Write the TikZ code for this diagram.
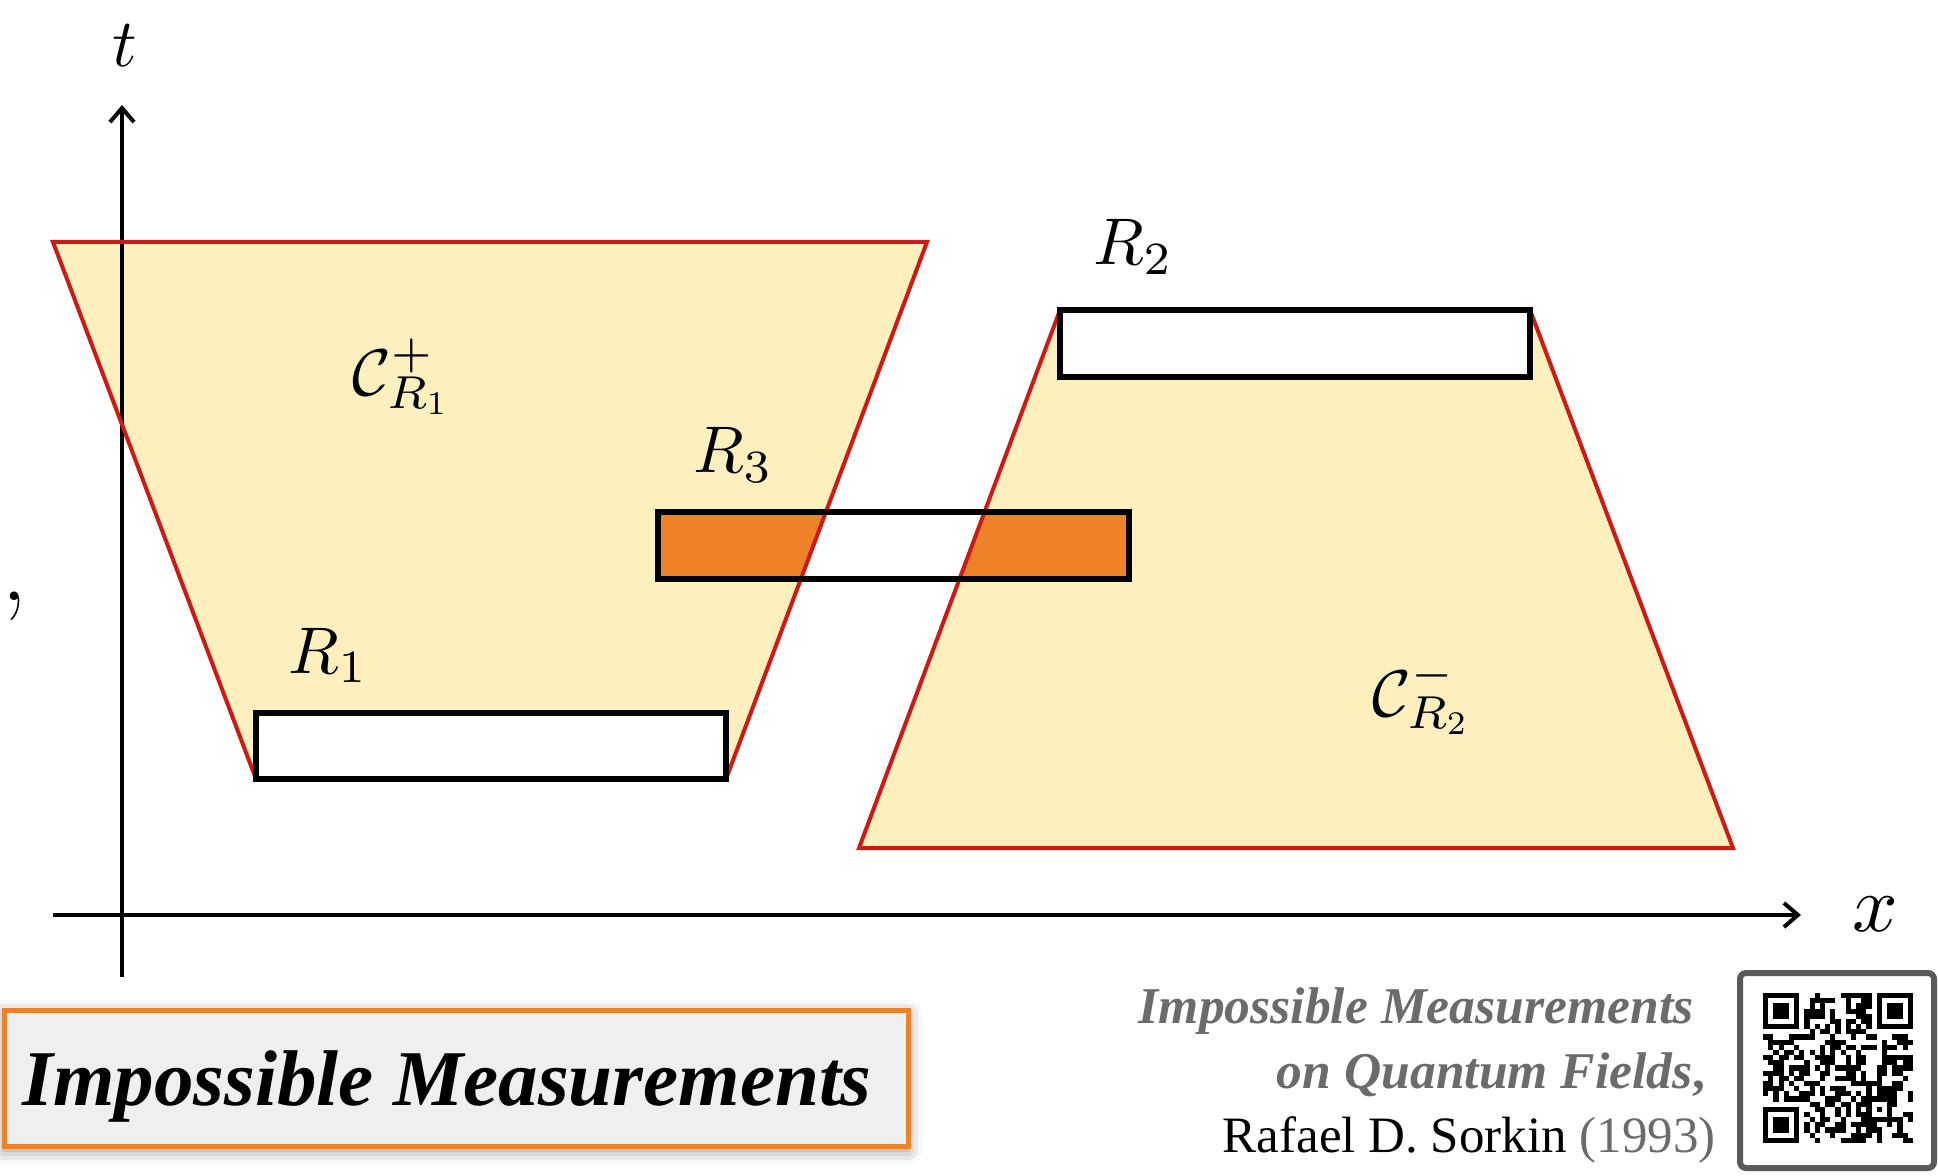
\documentclass[tikz,border=0pt]{standalone}
\usepackage{fontspec}
\newfontfamily\refserif{Liberation Serif}
\DeclareFontShape{OML}{cmm}{m}{it}{<-30>cmmi7 <30->cmmi10}{\skewchar\font=127}
\DeclareFontShape{OT1}{cmr}{m}{n}{<-30>cmr7 <30->cmr10}{}
\DeclareFontShape{OMS}{cmsy}{m}{n}{<-30>cmsy7 <30->cmsy10}{\skewchar\font=48}
\usetikzlibrary{arrows.meta,shadows.blur}
\definecolor{conefill}{HTML}{FDF0BE}
\definecolor{conered}{HTML}{CC1A14}
\definecolor{rorange}{HTML}{EE8229}
\definecolor{refgray}{HTML}{6B6B6B}
\definecolor{qrframe}{HTML}{5A5A5A}
\definecolor{titlebg}{HTML}{EFEFEF}
\tikzset{
  cone/.style={fill=conefill},
  coneedge/.style={draw=conered, line width=2pt, line join=miter},
  regfill/.style={fill=white},
  regedge/.style={draw=black, line width=3pt},
  axisline/.style={draw=black, line width=2pt, -{Straight Barb[length=7pt,width=12pt]}},
  mlabel/.style={inner sep=0pt, font=\fontsize{33}{40}\selectfont},
  clabel/.style={inner sep=0pt, font=\fontsize{33}{40}\selectfont},
  titlebox/.style={draw=rorange, fill=titlebg, line width=2.5pt, minimum width=452pt, minimum height=68pt, inner sep=0pt,
    blur shadow={shadow xshift=0pt, shadow yshift=-2pt, shadow blur radius=7pt, shadow opacity=45}},
  titletext/.style={inner sep=0pt, font=\refserif\bfseries\itshape\fontsize{39.5}{46}\selectfont},
  reftext/.style={inner sep=0pt, font=\refserif\fontsize{25.5}{30}\selectfont},
  refital/.style={reftext, text=refgray, font=\refserif\bfseries\itshape\fontsize{25.8}{30}\selectfont},
  qrmod/.style={fill=black},
}
\begin{document}
\begin{tikzpicture}[x=0.5pt,y=-0.5pt]
\useasboundingbox (0,0) rectangle (1938,1176);
% cones
\fill[cone] (53,242) -- (927,242) -- (726,779) -- (256,779) -- cycle;
\fill[cone] (1060,310) -- (1530,310) -- (1733,848) -- (859,848) -- cycle;
% regions fill
\fill[regfill] (256,713) rectangle (726,779);
\fill[regfill] (1060,310) rectangle (1530,377);
\fill[regfill] (658,512) rectangle (1129,579);
\begin{scope}
  \clip (53,242) -- (927,242) -- (726,779) -- (256,779) -- cycle
        (1060,310) -- (1530,310) -- (1733,848) -- (859,848) -- cycle;
  \fill[rorange] (658,512) rectangle (1129,579);
\end{scope}
% axes
\coordinate (tbot) at (122,977);
\coordinate (ttop) at (122,105);
\coordinate (xleft) at (53,915);
\coordinate (xright) at (1801,915);
\draw[axisline] (tbot) -- (ttop);
\draw[axisline] (xleft) -- (xright);
% cone edges
\draw[coneedge] (53,242) -- (927,242) -- (726,779) -- (256,779) -- cycle;
\draw[coneedge] (1060,310) -- (1530,310) -- (1733,848) -- (859,848) -- cycle;
% region borders
\draw[regedge] (256,713) rectangle (726,779);
\draw[regedge] (1060,310) rectangle (1530,377);
\draw[regedge] (658,512) rectangle (1129,579);
% labels
\node[inner sep=0pt, anchor=base, font=\fontsize{34}{40}\selectfont] (tlab) at (125,67) {$t$};
\node[inner sep=0pt, anchor=base, font=\fontsize{40}{46}\selectfont] (xlab) at (1875,931) {$x$};
\node[mlabel, anchor=base west] (r1) at (288,673) {$R_1$};
\node[mlabel, anchor=base west] (r2) at (1093,265) {$R_2$};
\node[mlabel, anchor=base west] (r3) at (693,473) {$R_3$};
\node[clabel, anchor=base west] (cplus) at (352,396) {$\mathcal{C}^{+}_{R_1}$};
\node[clabel, anchor=base west] (cminus) at (1372,716) {$\mathcal{C}^{-}_{R_2}$};
\node[inner sep=0pt, anchor=base east, font=\fontsize{52}{56}\selectfont] (comma) at (28,600) {,};
% title
\node[titlebox] (titlebox) at (456,1078) {};
\node[titletext, anchor=base west] (title) at (22,1105) {Impossible Measurements};
% reference
\node[refital, anchor=base east] (ref1) at (1694,1023) {Impossible Measurements};
\node[refital, anchor=base east] (ref2) at (1706,1088) {on Quantum Fields\textup{,}};
\node[reftext, anchor=base east] (ref3) at (1716,1152) {Rafael D. Sorkin \textcolor{refgray}{(1993)}};
% QR frame
\draw[qrframe, line width=3pt, rounded corners=3pt] (1740,973) rectangle (1934,1168);
\begin{scope}[shift={(1763,993)}, x=2.586pt, y=-2.586pt]
  \pgfmathsetseed{20231}
  \foreach \i in {0,...,28}{
    \foreach \j in {0,...,28}{
      \pgfmathtruncatemacro\inzone{(((\i<8)&&(\j<8)) || ((\i>20)&&(\j<8)) || ((\i<8)&&(\j>20)) || ((\i>19)&&(\i<25)&&(\j>19)&&(\j<25)) || (\i==6) || (\j==6)) ? 1 : 0}
      \pgfmathtruncatemacro\on{(rnd<0.5) ? 1 : 0}
      \ifnum\inzone=0 \ifnum\on=1 \fill[qrmod] (\i,\j) rectangle ++(1,1); \fi\fi
    }
  }
  \foreach \k in {8,10,...,20}{
    \fill[qrmod] (\k,6) rectangle ++(1,1);
    \fill[qrmod] (6,\k) rectangle ++(1,1);
  }
  \foreach \ox/\oy in {0/0,22/0,0/22}{
    \fill[qrmod] (\ox,\oy) rectangle ++(7,7);
    \fill[white] (\ox+1,\oy+1) rectangle ++(5,5);
    \fill[qrmod] (\ox+2,\oy+2) rectangle ++(3,3);
  }
  \fill[qrmod] (20,20) rectangle ++(5,5);
  \fill[white] (21,21) rectangle ++(3,3);
  \fill[qrmod] (22,22) rectangle ++(1,1);
\end{scope}
\end{tikzpicture}
\end{document}
